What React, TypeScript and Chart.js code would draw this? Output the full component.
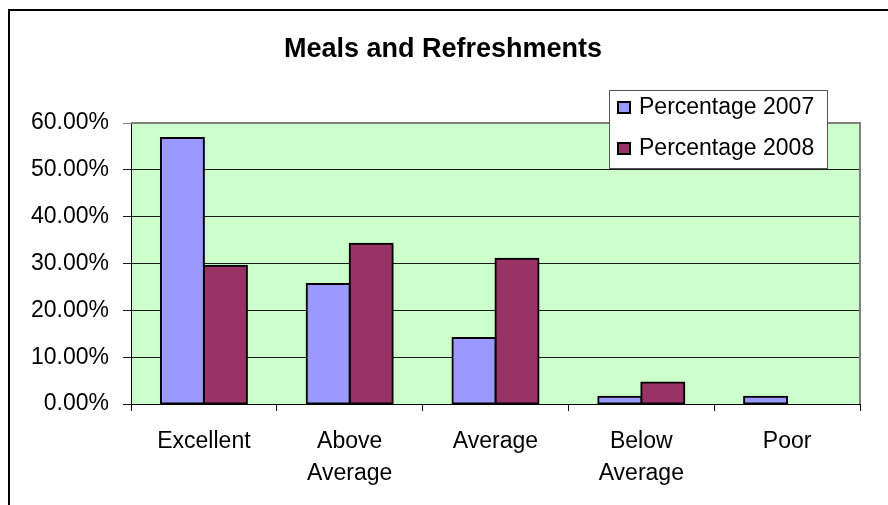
import React, { useEffect, useRef } from "react";
import { Chart, registerables } from "chart.js";

Chart.register(...registerables);

const TITLE = "Meals and Refreshments";
const categories: (string | string[])[] = [
  "Excellent",
  ["Above", "Average"],
  "Average",
  ["Below", "Average"],
  "Poor",
];
const seriesNames = ["Percentage 2007", "Percentage 2008"];
const values2007 = [56.8, 25.6, 14.1, 1.55, 1.55];
const values2008 = [29.5, 34.2, 31.0, 4.6, 0];
const yMin = 0;
const yMax = 60;
const yStep = 10;

const FONT = "'Liberation Sans', Arial, Helvetica, sans-serif";

const decorPlugin = {
  id: "decor",
  beforeDraw(chart: any) {
    const { ctx, chartArea } = chart;
    ctx.save();
    ctx.fillStyle = "#ffffff";
    ctx.fillRect(0, 0, chart.width, chart.height);
    ctx.fillStyle = "#CCFFCC";
    ctx.fillRect(
      chartArea.left,
      chartArea.top,
      chartArea.right - chartArea.left,
      chartArea.bottom - chartArea.top
    );
    // outer frame
    ctx.fillStyle = "#000000";
    ctx.fillRect(8, 9, 2, chart.height - 9);
    ctx.fillRect(8, 9, chart.width - 8, 2);
    ctx.restore();
  },
  beforeDatasetsDraw(chart: any) {
    const { ctx, chartArea } = chart;
    ctx.save();
    ctx.strokeStyle = "#808080";
    ctx.lineWidth = 2;
    ctx.beginPath();
    ctx.moveTo(chartArea.left, chartArea.top);
    ctx.lineTo(chartArea.right, chartArea.top);
    ctx.lineTo(chartArea.right, chartArea.bottom);
    ctx.stroke();
    ctx.restore();
  },
  afterDraw(chart: any) {
    const { ctx } = chart;
    ctx.save();
    // title
    ctx.fillStyle = "#000000";
    ctx.font = `bold 27px ${FONT}`;
    ctx.textAlign = "center";
    ctx.textBaseline = "alphabetic";
    ctx.fillText(TITLE, 443, 57);

    // legend
    const bx = 609, by = 90, bw = 218, bh = 78;
    ctx.fillStyle = "#ffffff";
    ctx.fillRect(bx, by, bw, bh);
    ctx.strokeStyle = "#555555";
    ctx.lineWidth = 1;
    ctx.strokeRect(bx + 0.5, by + 0.5, bw, bh);
    const rows = [108, 149];
    chart.data.datasets.forEach((ds: any, i: number) => {
      const cy = rows[i];
      ctx.fillStyle = ds.backgroundColor;
      ctx.fillRect(617, cy - 7, 14, 13);
      ctx.strokeStyle = "#000000";
      ctx.lineWidth = 2;
      ctx.strokeRect(618, cy - 6, 12, 11);
      ctx.fillStyle = "#000000";
      ctx.font = `23px ${FONT}`;
      ctx.textAlign = "left";
      ctx.textBaseline = "middle";
      ctx.fillText(ds.label, 639, cy);
    });
    ctx.restore();
  },
};

export default function App() {
  const ref = useRef<HTMLCanvasElement | null>(null);

  useEffect(() => {
    if (!ref.current) return;
    const chart = new Chart(ref.current, {
      type: "bar",
      data: {
        labels: categories,
        datasets: [
          {
            label: seriesNames[0],
            data: values2007,
            backgroundColor: "#9999FF",
            borderColor: "#000000",
            borderWidth: 2,
            borderSkipped: false,
            inflateAmount: 1,
            categoryPercentage: 0.59,
            barPercentage: 1.0,
          },
          {
            label: seriesNames[1],
            data: values2008,
            backgroundColor: "#993366",
            borderColor: "#000000",
            borderWidth: 2,
            borderSkipped: false,
            inflateAmount: 1,
            categoryPercentage: 0.59,
            barPercentage: 1.0,
          },
        ],
      },
      options: {
        responsive: false,
        animation: false,
        devicePixelRatio: 1,
        layout: { padding: { left: 0, top: 123, right: 28, bottom: 0 } },
        plugins: {
          legend: { display: false },
          title: { display: false },
          tooltip: { enabled: false },
        },
        scales: {
          x: {
            afterFit(scale: any) {
              scale.height = 101;
            },
            grid: {
              drawOnChartArea: false,
              drawTicks: true,
              tickLength: 7,
              color: "#000000",
              offset: true,
            },
            border: { display: true, color: "#000000", width: 1 },
            ticks: {
              color: "#000000",
              padding: 14,
              maxRotation: 0,
              autoSkip: false,
              font: { family: FONT, size: 23, lineHeight: 1.42 },
            },
          },
          y: {
            min: yMin,
            max: yMax,
            afterFit(scale: any) {
              scale.width = 131;
            },
            grid: {
              color: (c: any) => (c.tick && c.tick.value === yMax ? "#808080" : "#1a1a1a"),
              tickLength: 8,
              drawTicks: true,
            },
            border: { display: true, color: "#000000", width: 1 },
            ticks: {
              stepSize: yStep,
              color: "#000000",
              padding: 14,
              font: { family: FONT, size: 23 },
              callback: (v: any) => Number(v).toFixed(2) + "%",
            },
          },
        },
      },
      plugins: [decorPlugin],
    });
    return () => chart.destroy();
  }, []);

  return (
    <div style={{ position: "absolute", left: 0, top: 0, width: 888, height: 505 }}>
      <canvas ref={ref} width={888} height={505} style={{ display: "block" }} />
    </div>
  );
}
